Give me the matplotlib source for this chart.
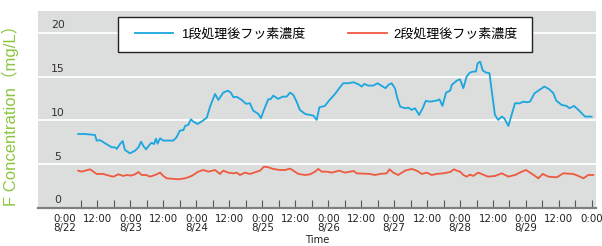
import matplotlib
matplotlib.use("Agg")
import matplotlib.pyplot as plt
from matplotlib.lines import Line2D
from matplotlib.patches import Rectangle

# hours since 8/22 0:00
blue_h = [5, 7.5, 11.1, 11.7, 12.9, 15.4, 17.2, 18.4, 19, 20.2,
          21.2, 22, 23.8, 25.7, 26.9, 27.9, 28.7, 29.7, 30.9, 31.7,
          32.6, 33.3, 33.9, 34.8, 36, 39.6, 40.8, 42, 43.3, 43.9,
          45.1, 46, 46.9, 48.4, 49.9, 51.8, 53, 54.8, 56, 57.8,
          59.4, 60.5, 61.5, 62.7, 64.5, 66.1, 67.5, 68.7, 70.6, 71.5,
          72.6, 74.2, 75, 76, 77.8, 79.4, 80.9, 82.1, 83.3, 84.5,
          85.7, 87.6, 90.6, 91.8, 92.8, 94.8, 96, 98.5, 100.3, 101.5,
          103.3, 105.2, 107, 108.2, 109.2, 110.6, 112.4, 114, 115.5, 116.9,
          117.9, 119.1, 120.3, 121.2, 122.2, 124, 125.2, 126.4, 127.6, 129.1,
          130.4, 131.5, 133.1, 135.5, 136.5, 137.6, 138.9, 140.4, 141, 142.8,
          144, 145.2, 146.4, 147.6, 148.8, 149.8, 150.4, 151.3, 152.3, 153.5,
          154.7, 155.5, 156.7, 157.9, 159.2, 160.1, 161.6, 162.6, 164, 165.8,
          167, 168.3, 169.5, 171.1, 172.5, 174.7, 176.5, 178, 179, 181,
          182.8, 183.8, 185.5, 187.1, 189.5, 191.9]
blue_v = [8.46, 8.45, 8.34, 7.7, 7.75, 7.28, 6.93, 6.93, 6.74, 7.3,
          7.65, 6.63, 6.25, 6.55, 6.93, 7.58, 7.09, 6.7, 7.2, 7.46,
          7.3, 7.92, 7.35, 7.96, 7.7, 7.7, 8.08, 8.84, 8.9, 9.37,
          9.5, 10.13, 9.87, 9.6, 9.87, 10.32, 11.58, 13.03, 12.34, 13.18,
          13.4, 13.2, 12.65, 12.7, 12.34, 11.9, 11.96, 11.12, 10.74, 10.25,
          11.2, 12.42, 12.42, 12.83, 12.46, 12.72, 12.72, 13.18, 12.91, 12.15,
          11.2, 10.74, 10.55, 10.06, 11.5, 11.66, 12.15, 13.03, 13.79, 14.25,
          14.25, 14.36, 14.13, 13.87, 14.17, 13.98, 13.98, 14.25, 13.94, 13.68,
          14.06, 14.25, 13.68, 12.53, 11.58, 11.39, 11.46, 11.2, 11.39, 10.63,
          11.39, 12.23, 12.15, 12.27, 12.42, 11.66, 13.18, 13.4, 14.06, 14.55,
          14.7, 13.68, 15.01, 15.47, 15.58, 15.58, 16.53, 16.72, 15.69, 15.47,
          15.4, 13.49, 10.63, 10.06, 10.44, 10.25, 9.37, 10.44, 11.96, 11.96,
          12.15, 12.08, 12.15, 13.1, 13.4, 13.87, 13.56, 13.1, 12.27, 11.77,
          11.66, 11.39, 11.66, 11.2, 10.44, 10.44]

red_h = [5, 6.2, 9.3, 11.7, 14.1, 16.6, 17.8, 19.6, 21.4, 22.6,
         24.2, 25.7, 26.9, 28.1, 29.7, 31.1, 33, 34.8, 36, 37.2,
         41.4, 43.9, 46.3, 48.7, 50.5, 52.4, 54.8, 56.6, 57.8, 59.6,
         61.5, 62.7, 63.9, 65.7, 67.5, 69.4, 71.2, 72.6, 74.2, 76,
         78.5, 80.3, 82.1, 83.3, 85.1, 87.6, 89.4, 91.2, 92.4, 93.6,
         95.5, 97.3, 100, 102.1, 105.2, 106.4, 111.2, 113, 114.9, 117.3,
         118.3, 119.7, 121.5, 124, 126.4, 128.2, 130.1, 131.9, 133.7, 135.5,
         137.9, 140.4, 141.8, 142.8, 144, 145.2, 146.4, 147.6, 148.8, 150.6,
         151.8, 154.2, 156.7, 159.2, 161.6, 164, 166.5, 168, 169.5, 171.3,
         172.5, 174.1, 176.2, 179.2, 181.6, 185.2, 187.1, 188.9, 190.7, 192.5]
red_v = [4.27, 4.15, 4.42, 3.89, 3.89, 3.66, 3.58, 3.85, 3.66, 3.77,
         3.7, 3.85, 4.11, 3.77, 3.77, 3.58, 3.77, 4.04, 3.66, 3.39,
         3.28, 3.39, 3.66, 4.15, 4.34, 4.15, 4.34, 3.89, 4.27, 4.04,
         3.96, 4.04, 3.77, 4.04, 3.89, 4.08, 4.27, 4.72, 4.65, 4.46,
         4.34, 4.34, 4.5, 4.27, 3.89, 3.77, 3.85, 4.15, 4.46, 4.15,
         4.15, 4.04, 4.27, 4.04, 4.23, 3.96, 3.89, 3.77, 3.89, 3.96,
         4.42, 4.04, 3.77, 4.27, 4.46, 4.27, 3.89, 4.04, 3.77, 3.89,
         3.96, 4.11, 4.42, 4.27, 4.15, 3.77, 3.58, 3.81, 3.66, 4.04,
         3.89, 3.58, 3.66, 3.96, 3.58, 3.77, 4.15, 4.34, 4.04, 3.66,
         3.39, 3.89, 3.58, 3.5, 3.96, 3.89, 3.66, 3.39, 3.77, 3.77]

series_names = ["1段処理後フッ素濃度", "2段処理後フッ素濃度"]
x_label_pos = [0, 12, 24, 36, 48, 60, 72, 84, 96, 108, 120, 132, 144, 156, 168, 180, 192]
x_labels = ["0:00\n8/22", "12:00", "0:00\n8/23", "12:00", "0:00\n8/24", "12:00",
            "0:00\n8/25", "12:00", "0:00\n8/26", "12:00", "0:00\n8/27", "12:00",
            "0:00\n8/28", "12:00", "0:00\n8/29", "12:00", "0:00"]
x_tick_marks = [6, 12, 18, 24, 30, 36, 42, 48, 54, 60, 66, 72, 78, 84, 90, 96,
                102, 108, 114, 120, 126, 132, 138, 144, 150, 156, 162, 168, 174,
                180, 186, 192]
y_ticks = [0, 5, 10, 15, 20]

BLUE = "#1aa6df"
RED = "#ee5a3e"
GREEN = "#8cc63f"
cjk = ["Liberation Sans", "Noto Sans CJK JP"]

fig = plt.figure(figsize=(6.02, 2.46), dpi=100)
ax = fig.add_axes([38 / 602, 38 / 246, 558 / 602, 197 / 246])
ax.set_facecolor("#dcdddd")

for y in y_ticks[1:]:
    ax.axhline(y, color="white", lw=1.3, zorder=1)

ax.plot(blue_h, blue_v, color=BLUE, lw=1.3, zorder=3)
ax.plot(red_h, red_v, color=RED, lw=1.3, zorder=3)

ax.set_xlim(-9.65, 193.5)
ax.set_ylim(0, 22.5)

for s in ["left", "right", "top"]:
    ax.spines[s].set_visible(False)
ax.spines["bottom"].set_color("#7f7f7f")
ax.spines["bottom"].set_linewidth(1.6)

# y labels sit inside the plot, just above the grid lines
ax.set_yticks([])
for y in y_ticks:
    ax.annotate(str(y), xy=(0.036, y), xycoords=("axes fraction", "data"),
                xytext=(0, 5.5), textcoords="offset points",
                ha="center", va="center", fontsize=7.8, color="#333333",
                family="DejaVu Sans")

ax.xaxis.remove_overlapping_locs = False
ax.set_xticks(x_label_pos)
ax.set_xticklabels(x_labels, fontsize=7.4, color="#222222", linespacing=0.95,
                   family="DejaVu Sans")
ax.tick_params(axis="x", which="major", length=0, pad=4)
ax.set_xticks(x_tick_marks, minor=True)
ax.tick_params(axis="x", which="minor", direction="in", length=6,
               width=0.8, color="#555555")
ax.set_xlabel("Time", fontsize=7.2, color="#222222", labelpad=1,
              family="DejaVu Sans")

ax.set_ylabel("F Concentration（mg/L）", fontsize=12, color=GREEN, family=cjk)
ax.yaxis.set_label_coords(-0.034, 0.49)

# legend box drawn separately so the inner padding can be uneven
box = Rectangle((0.1434, 0.7934), 0.742, 0.1746, transform=ax.transAxes,
                facecolor="white", edgecolor="#222222", lw=1.0, zorder=4)
ax.add_patch(box)
handles = [Line2D([], [], color=BLUE, lw=1.3), Line2D([], [], color=RED, lw=1.3)]
leg = ax.legend(handles, series_names, ncol=2, mode="expand",
                loc="center left", bbox_to_anchor=(0.1738, 0.7934, 0.6864, 0.1746),
                borderaxespad=0, borderpad=0, prop={"family": cjk, "size": 9.4},
                frameon=False, handlelength=2.95, handletextpad=0.55)
leg.set_zorder(5)

fig.savefig("out.png", dpi=100)
